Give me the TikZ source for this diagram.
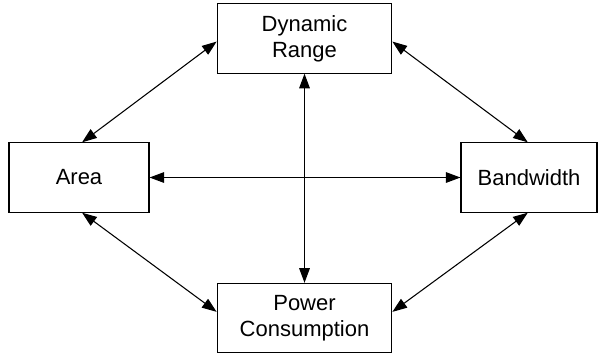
\documentclass[tikz,border=0pt]{standalone}
\usepackage{fontspec}
\setmainfont{Liberation Sans}
\usetikzlibrary{arrows.meta}

\begin{document}
\begin{tikzpicture}[x=0.75pt, y=-0.75pt, line width=0.8pt,
    >={Triangle[length=11pt, width=8pt]},
    block/.style={draw, rectangle, align=center, inner sep=0pt, minimum height=52pt,
        font=\fontsize{16.5}{19.5}\selectfont}]

    \useasboundingbox (0,0) rectangle (598,354);

    \node [block, minimum width=131pt] (dr) at (304.5, 38.5) {Dynamic\\Range};
    \node [block, minimum width=105pt] (area) at (79, 177.5) {Area};
    \node [block, minimum width=102pt] (bw) at (529, 177.5) {Bandwidth};
    \node [block, minimum width=131pt] (pc) at (304.5, 318) {Power\\Consumption};
 \path[<->]
      (dr.182) edge (area.85)
      (dr.-2) edge (bw.92)
      (area.-85) edge (pc.176)
      (bw.-92) edge (pc.4)
      (area) edge (bw)
      (dr) edge (pc);
\end{tikzpicture}
\end{document}
